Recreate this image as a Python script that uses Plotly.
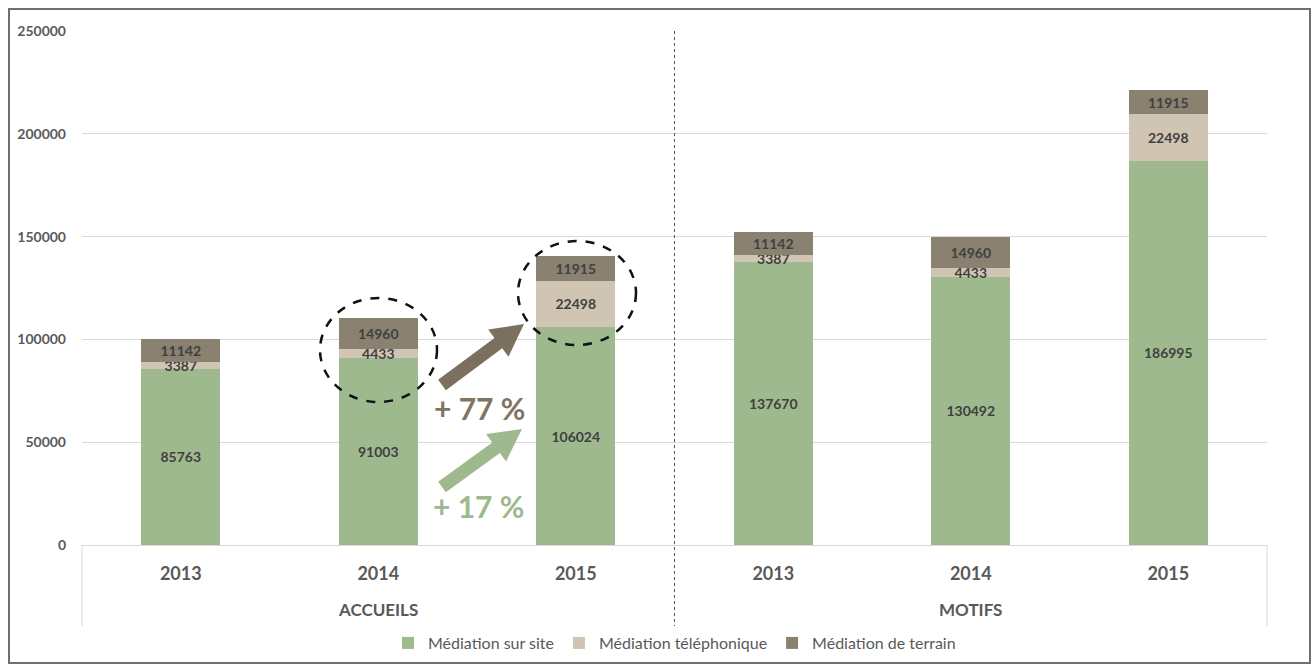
import plotly.graph_objects as go

groups = ["ACCUEILS"] * 3 + ["MOTIFS"] * 3
years = ["2013", "2014", "2015", "2013", "2014", "2015"]
sur_site = [85763, 91003, 106024, 137670, 130492, 186995]
telephonique = [3387, 4433, 22498, 3387, 4433, 22498]
terrain = [11142, 14960, 11915, 11142, 14960, 11915]
series_names = ["Médiation sur site", "Médiation téléphonique", "Médiation de terrain"]
colors = ["#9fb98f", "#d0c5b3", "#8a8170"]
y_ticks = [0, 50000, 100000, 150000, 200000, 250000]

W, H = 1315, 666
L, R, T, B = 82, 1267, 31, 545
FONT = "Lato"


def px(x):
    return (x - L) / (R - L)


def py(y):
    return (B - y) / (B - T)


cat_keys = [f"{g} {y}" for g, y in zip(groups, years)]

fig = go.Figure()
for name, vals, col in zip(series_names, [sur_site, telephonique, terrain], colors):
    fig.add_trace(go.Bar(
        x=cat_keys, y=vals, name=name, marker_color=col,
        marker_line_width=0,
        text=[str(v) for v in vals], textposition="inside",
        insidetextanchor="middle", constraintext="none",
        textfont=dict(family=FONT, size=14, color="#404040", weight="bold"),
        textangle=0,
    ))

shapes = []
# outer border
shapes.append(dict(type="rect", xref="paper", yref="paper",
                   x0=px(9), x1=px(1310), y0=py(663), y1=py(9),
                   line=dict(color="#6f6f6f", width=2), layer="below"))
# group box edges
for xx in (0, 1):
    shapes.append(dict(type="line", xref="paper", yref="paper", x0=xx, x1=xx,
                       y0=0, y1=py(626), line=dict(color="#d9d9d9", width=1)))
# dashed divider
shapes.append(dict(type="line", xref="paper", yref="paper", x0=0.5, x1=0.5,
                   y0=1, y1=py(628), line=dict(color="#595959", width=1, dash="dot")))
# dashed circles
for (x0, x1, y0, y1) in [(320, 437, 298, 402), (518, 636, 241, 345)]:
    shapes.append(dict(type="circle", xref="paper", yref="paper",
                       x0=px(x0), x1=px(x1), y0=py(y1), y1=py(y0),
                       line=dict(color="#111111", width=2.5, dash="dash")))


def arrow_path(tail, tip, shaft=6.5, head=17, head_len=32):
    import math
    dx, dy = tip[0] - tail[0], tip[1] - tail[1]
    ln = math.hypot(dx, dy)
    ux, uy = dx / ln, dy / ln
    nx, ny = -uy, ux
    bx, by = tip[0] - ux * head_len, tip[1] - uy * head_len
    pts = [
        (tail[0] + nx * shaft, tail[1] + ny * shaft),
        (bx + nx * shaft, by + ny * shaft),
        (bx + nx * head, by + ny * head),
        tip,
        (bx - nx * head, by - ny * head),
        (bx - nx * shaft, by - ny * shaft),
        (tail[0] - nx * shaft, tail[1] - ny * shaft),
    ]
    return "M " + " L ".join(f"{px(a):.5f},{py(b):.5f}" for a, b in pts) + " Z"


shapes.append(dict(type="path", xref="paper", yref="paper",
                   path=arrow_path((442, 385), (524, 324)),
                   fillcolor="#7a705d", line=dict(width=0)))
shapes.append(dict(type="path", xref="paper", yref="paper",
                   path=arrow_path((442, 487), (522, 429)),
                   fillcolor="#9fb98f", line=dict(width=0)))

annotations = [
    dict(x=px(479), y=py(428), xref="paper", yref="paper", text="+ 77 %",
         showarrow=False, xanchor="center",
         font=dict(family=FONT, size=30, color="#7f7562", weight="bold")),
    dict(x=px(478), y=py(526), xref="paper", yref="paper", text="+ 17 %",
         showarrow=False, xanchor="center",
         font=dict(family=FONT, size=30, color="#9fb98f", weight="bold")),
]
# group labels
group_names = list(dict.fromkeys(groups))
for i, g in enumerate(group_names):
    annotations.append(dict(x=(i + 0.5) / len(group_names), y=py(609), xref="paper", yref="paper",
                            text=g, showarrow=False, xanchor="center", yanchor="middle",
                            font=dict(family=FONT, size=17, color="#595959", weight="bold")))

fig.update_layout(
    width=W, height=H,
    margin=dict(l=L, r=W - R, t=T, b=H - B, autoexpand=False),
    barmode="stack", bargap=0.6,
    paper_bgcolor="white", plot_bgcolor="white",
    font=dict(family=FONT, color="#595959"),
    uniformtext=dict(minsize=14, mode="show"),
    shapes=shapes, annotations=annotations,
    legend=dict(orientation="h", x=0.5, xanchor="center", y=py(643), yanchor="middle",
                font=dict(family=FONT, size=16, color="#595959"), traceorder="normal"),
    showlegend=True,
)
fig.update_yaxes(range=[0, 250000], tickvals=y_ticks, tickformat="d", showgrid=True,
                 gridcolor="#d9d9d9", gridwidth=1, zeroline=False, showline=False, ticks="",
                 tickfont=dict(family=FONT, size=14, color="#595959", weight="bold"),
                 ticklabelstandoff=15)
fig.update_xaxes(type="category", tickvals=cat_keys, ticktext=years,
                 showline=True, linecolor="#d9d9d9", linewidth=1, ticks="",
                 ticklabelstandoff=12,
                 tickfont=dict(family=FONT, size=18, color="#595959", weight="bold"))

fig.write_html("out.html", config={"displayModeBar": False},
               post_script="document.body.style.margin='0';")
